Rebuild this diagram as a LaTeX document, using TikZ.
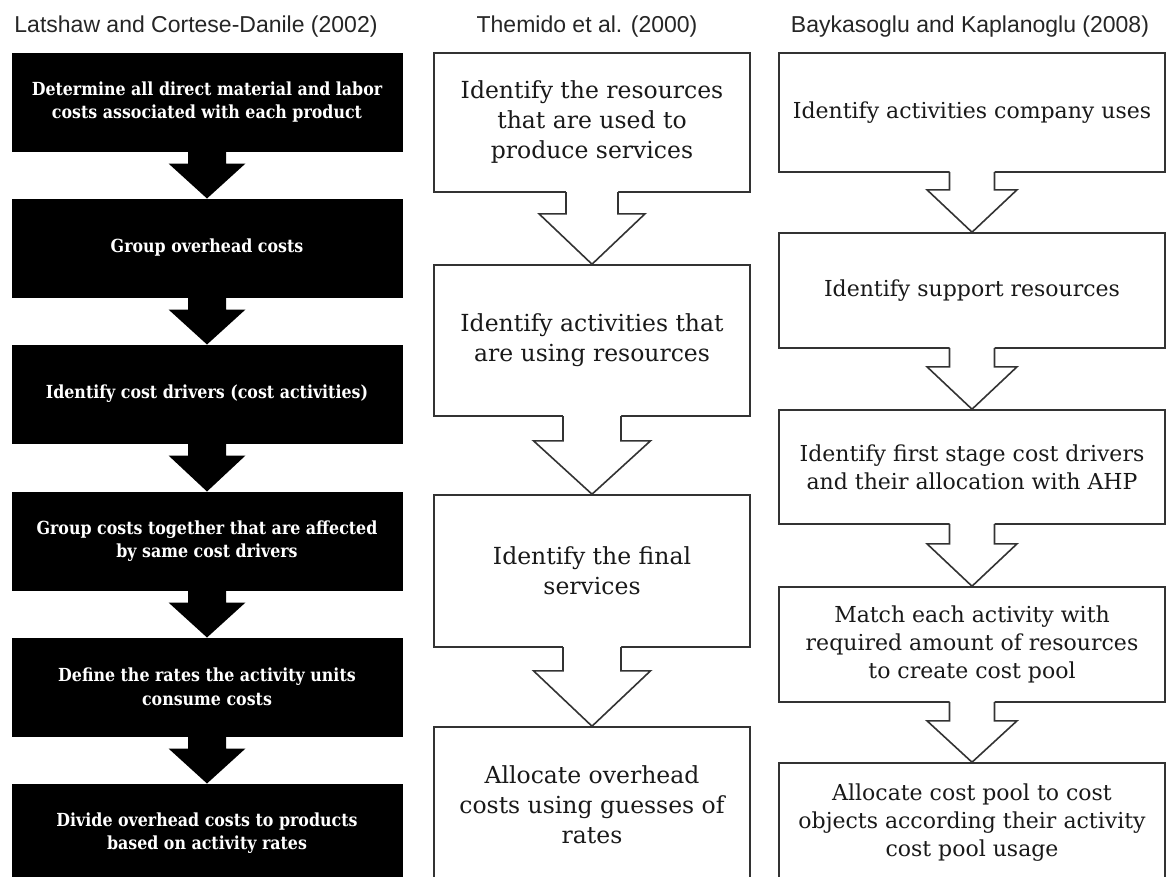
\documentclass[tikz,border=0pt]{standalone}
\usepackage{fontspec}
\usetikzlibrary{calc}
\setmainfont{DejaVu Serif}
\newfontfamily\titlefont{Liberation Sans}
\newfontfamily\boxfont{DejaVu Serif}
\newfontfamily\darkfont[FakeStretch=0.88]{DejaVu Serif}

% solid block arrow: from node, to node, shaft half-width, head half-width, shaft length
\newcommand\solidarrow[5]{%
  \fill[black] ($(#1.south)+(-#3,-1)$) -- ($(#1.south)+(-#3,#5)$) -- ($(#1.south)+(-#4,#5)$)
    -- (#2.north) -- ($(#1.south)+(#4,#5)$) -- ($(#1.south)+(#3,#5)$) -- ($(#1.south)+(#3,-1)$) -- cycle;}

% outlined block arrow opening into the box above it
\newcommand\openarrow[5]{%
  \fill[white] ($(#1.south)+(-#3,-2.5)$) -- ($(#1.south)+(-#3,#5)$) -- ($(#1.south)+(-#4,#5)$)
    -- (#2.north) -- ($(#1.south)+(#4,#5)$) -- ($(#1.south)+(#3,#5)$) -- ($(#1.south)+(#3,-2.5)$) -- cycle;
  \draw[outline] ($(#1.south)+(-#3,-0.8)$) -- ($(#1.south)+(-#3,#5)$) -- ($(#1.south)+(-#4,#5)$)
    -- (#2.north) -- ($(#1.south)+(#4,#5)$) -- ($(#1.south)+(#3,#5)$) -- ($(#1.south)+(#3,-0.8)$);}

\begin{document}
\begin{tikzpicture}[x=1pt,y=-1pt,
  outline/.style={draw=black!80,line width=1.6,line join=miter},
  titletext/.style={font=\titlefont\fontsize{23}{27}\selectfont,text=black!85,inner sep=0,anchor=base},
  darkbox/.style={fill=black,draw=black,line width=1,minimum width=390,minimum height=98,inner sep=0,
    text=white,align=center,font=\darkfont\bfseries\fontsize{18}{23.5}\selectfont},
  midbox/.style={outline,fill=white,minimum width=316,inner sep=0,align=center,text=black!90,
    font=\boxfont\fontsize{23.5}{30}\selectfont},
  rightbox/.style={outline,fill=white,minimum width=386,inner sep=0,align=center,text=black!90,
    font=\boxfont\fontsize{22}{28}\selectfont}]
\useasboundingbox (0,0) rectangle (1166,876);
\clip (0,0) rectangle (1166,876);
\fill[white] (0,0) rectangle (1166,876);

% column headings
\node[titletext] (t1) at (196,32) {Latshaw and Cortese-Danile (2002)};
\node[titletext] (t2) at (587,32) {Themido et al. (2000)};
\node[titletext] (t3) at (970,32) {Baykasoglu and Kaplanoglu (2008)};

% left column
\node[darkbox] (l1) at (207,102) {Determine all direct material and labor\\costs associated with each product};
\node[darkbox] (l2) at (207,248) {Group overhead costs};
\node[darkbox] (l3) at (207,394) {Identify cost drivers (cost activities)};
\node[darkbox] (l4) at (207,541) {Group costs together that are affected\\by same cost drivers};
\node[darkbox] (l5) at (207,687) {Define the rates the activity units\\consume costs};
\node[darkbox] (l6) at (207,833) {Divide overhead costs to products\\based on activity rates};
\solidarrow{l1}{l2}{19}{38.5}{12}
\solidarrow{l2}{l3}{19}{38.5}{12}
\solidarrow{l3}{l4}{19}{38.5}{12}
\solidarrow{l4}{l5}{19}{38.5}{12}
\solidarrow{l5}{l6}{19}{38.5}{12}

% middle column
\node[midbox,minimum height=139] (m1) at (592,122.5) {Identify the resources\\that are used to\\produce services};
\node[midbox,minimum height=151] (m2) at (592,340.5) {Identify activities that\\are using resources};
\node[midbox,minimum height=152] (m3) at (592,571) {Identify the final\\services};
\node[midbox,minimum height=156] (m4) at (592,805) {Allocate overhead\\costs using guesses of\\rates};
\openarrow{m1}{m2}{26}{53}{21}
\openarrow{m2}{m3}{29}{58.5}{24}
\openarrow{m3}{m4}{29}{58.5}{23}

% right column
\node[rightbox,minimum height=119] (r1) at (972,112.5) {Identify activities company uses};
\node[rightbox,minimum height=115] (r2) at (972,290.5) {Identify support resources};
\node[rightbox,minimum height=114] (r3) at (972,467) {Identify first stage cost drivers\\and their allocation with AHP};
\node[rightbox,minimum height=115] (r4) at (972,644.5) {Match each activity with\\required amount of resources\\to create cost pool};
\node[rightbox,minimum height=120] (r5) at (972,823) {Allocate cost pool to cost\\objects according their activity\\cost pool usage};
\openarrow{r1}{r2}{22.5}{45}{17}
\openarrow{r2}{r3}{22.5}{45}{18}
\openarrow{r3}{r4}{22.5}{45}{19}
\openarrow{r4}{r5}{22.5}{45}{18}
\end{tikzpicture}
\end{document}
